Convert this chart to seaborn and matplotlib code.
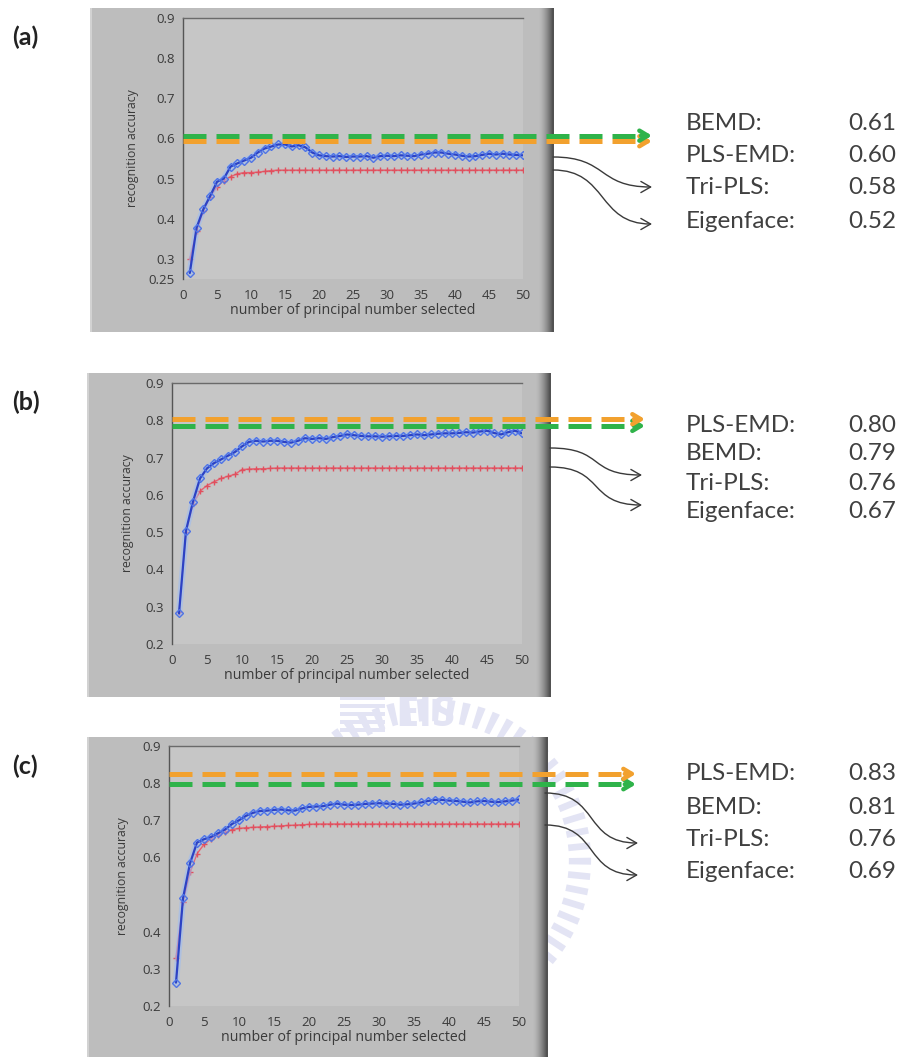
import numpy as np
import pandas as pd
import matplotlib
matplotlib.use("Agg")
import matplotlib.pyplot as plt
import seaborn as sns
from matplotlib.patches import Rectangle, FancyArrowPatch, Circle
from matplotlib.path import Path

# ---------------- data ----------------
components = list(range(1, 51))

a_tri = [0.265, 0.378, 0.424, 0.457, 0.492, 0.500, 0.530, 0.538, 0.545, 0.552,
         0.565, 0.575, 0.580, 0.585, 0.585, 0.580, 0.583, 0.578, 0.565, 0.558,
         0.556, 0.555, 0.556, 0.554, 0.555, 0.555, 0.556, 0.552, 0.556, 0.557,
         0.556, 0.558, 0.557, 0.556, 0.560, 0.562, 0.565, 0.565, 0.562, 0.560,
         0.557, 0.555, 0.556, 0.559, 0.562, 0.560, 0.562, 0.560, 0.559, 0.558]
a_eig = [0.300, 0.370, 0.420, 0.455, 0.480, 0.495, 0.505, 0.512, 0.515, 0.515,
         0.516, 0.518, 0.520, 0.521, 0.521, 0.521, 0.521, 0.521, 0.521, 0.521,
         0.521, 0.521, 0.521, 0.521, 0.521, 0.521, 0.521, 0.521, 0.521, 0.521,
         0.521, 0.521, 0.521, 0.521, 0.521, 0.521, 0.521, 0.521, 0.521, 0.521,
         0.521, 0.521, 0.521, 0.521, 0.521, 0.521, 0.521, 0.521, 0.521, 0.521]
a_bemd, a_plsemd = 0.607, 0.593

b_tri = [0.282, 0.504, 0.582, 0.644, 0.671, 0.685, 0.695, 0.705, 0.715, 0.730,
         0.742, 0.745, 0.743, 0.745, 0.745, 0.742, 0.740, 0.745, 0.752, 0.750,
         0.752, 0.750, 0.755, 0.758, 0.762, 0.760, 0.758, 0.757, 0.757, 0.756,
         0.757, 0.758, 0.758, 0.760, 0.762, 0.760, 0.762, 0.764, 0.765, 0.765,
         0.766, 0.768, 0.767, 0.770, 0.772, 0.766, 0.762, 0.768, 0.772, 0.765]
b_eig = [0.285, 0.500, 0.575, 0.610, 0.625, 0.635, 0.644, 0.650, 0.655, 0.668,
         0.669, 0.670, 0.670, 0.671, 0.672, 0.672, 0.672, 0.672, 0.672, 0.672,
         0.672, 0.672, 0.672, 0.672, 0.672, 0.672, 0.672, 0.672, 0.672, 0.672,
         0.672, 0.672, 0.672, 0.672, 0.672, 0.672, 0.672, 0.672, 0.672, 0.672,
         0.672, 0.672, 0.672, 0.672, 0.672, 0.672, 0.672, 0.672, 0.672, 0.672]
b_bemd, b_plsemd = 0.785, 0.803

c_tri = [0.263, 0.490, 0.584, 0.640, 0.649, 0.655, 0.665, 0.675, 0.690, 0.700,
         0.712, 0.720, 0.725, 0.726, 0.728, 0.729, 0.727, 0.726, 0.732, 0.736,
         0.737, 0.738, 0.742, 0.745, 0.742, 0.741, 0.742, 0.744, 0.745, 0.746,
         0.745, 0.744, 0.742, 0.743, 0.745, 0.748, 0.752, 0.755, 0.755, 0.753,
         0.752, 0.750, 0.748, 0.751, 0.752, 0.750, 0.749, 0.751, 0.753, 0.756]
c_eig = [0.330, 0.480, 0.560, 0.610, 0.635, 0.650, 0.660, 0.668, 0.675, 0.678,
         0.680, 0.681, 0.682, 0.683, 0.684, 0.685, 0.686, 0.687, 0.688, 0.689,
         0.690, 0.690, 0.690, 0.690, 0.690, 0.690, 0.690, 0.690, 0.690, 0.690,
         0.690, 0.690, 0.690, 0.690, 0.690, 0.690, 0.690, 0.690, 0.690, 0.690,
         0.690, 0.690, 0.690, 0.690, 0.690, 0.690, 0.690, 0.690, 0.690, 0.690]
c_bemd, c_plsemd = 0.797, 0.825

a_names = ["BEMD:", "PLS-EMD:", "Tri-PLS:", "Eigenface:"]
a_values = ["0.61", "0.60", "0.58", "0.52"]
b_names = ["PLS-EMD:", "BEMD:", "Tri-PLS:", "Eigenface:"]
b_values = ["0.80", "0.79", "0.76", "0.67"]
c_names = ["PLS-EMD:", "BEMD:", "Tri-PLS:", "Eigenface:"]
c_values = ["0.83", "0.81", "0.76", "0.69"]

xticks = [0, 5, 10, 15, 20, 25, 30, 35, 40, 45, 50]
a_yticks = [0.25, 0.3, 0.4, 0.5, 0.6, 0.7, 0.8, 0.9]
a_ylabels = ["0.25", "0.3", "0.4", "0.5", "0.6", "0.7", "0.8", "0.9"]
b_yticks = [0.2, 0.3, 0.4, 0.5, 0.6, 0.7, 0.8, 0.9]
b_ylabels = ["0.2", "0.3", "0.4", "0.5", "0.6", "0.7", "0.8", "0.9"]
c_yticks = [0.2, 0.3, 0.4, 0.5, 0.6, 0.7, 0.8, 0.9]
c_ylabels = ["0.2", "0.3", "0.4", "", "0.6", "0.7", "0.8", "0.9"]

# ---------------- style ----------------
sns.set_style("white")
plt.rcParams["font.family"] = ["Open Sans", "DejaVu Sans"]

W, H = 903, 1057
fig = plt.figure(figsize=(W / 100, H / 100), dpi=100)
fig.patch.set_facecolor("white")

GREEN = "#2fb34a"
ORANGE = "#f2a12e"
TEXTC = "#404040"
WM = "#e3e4f4"


def F(x, y):
    return (x / W, 1 - y / H)


def add_box(x0, y0, x1, y1):
    fig.add_artist(Rectangle(F(x0, y1), (x1 - x0) / W, (y1 - y0) / H,
                             transform=fig.transFigure, facecolor="#bdbdbd",
                             edgecolor="none", zorder=-5))
    fig.add_artist(Rectangle(F(x0, y1), 2 / W, (y1 - y0) / H,
                             transform=fig.transFigure, facecolor="#d2d2d2",
                             edgecolor="none", zorder=-4))
    n = 15
    for i in range(n):
        t = i / (n - 1)
        g = 0.74 - 0.42 * t ** 1.6
        fig.add_artist(Rectangle(F(x1 - n + i, y1), 1.6 / W, (y1 - y0) / H,
                                 transform=fig.transFigure, facecolor=(g, g, g),
                                 edgecolor="none", zorder=-4))


# faint watermark (logo ring) behind everything
ring = Circle((430, H - 860), 150, transform=None, fill=False,
              edgecolor=WM, lw=16, ls=(0, (0.3, 0.35)), zorder=-8)
fig.add_artist(ring)
fig.text(395 / W, F(0, 716)[1], "EIS", fontsize=30, color=WM,
         ha="left", va="center", fontweight="bold", zorder=-8)
for k in range(5):
    fig.add_artist(Rectangle(F(340, 700 + k * 8), 45 / W, 4 / H, transform=fig.transFigure,
                             facecolor=WM, edgecolor="none", zorder=-8))


def panel(rect_px, box_px, ylim, yticks, ylabels, tri, eig, dashes, tip_x,
          ylab_x, tag, tag_y, names, values, text_y, curves):
    l, t, r, b = rect_px
    add_box(*box_px)
    ax = fig.add_axes([l / W, 1 - b / H, (r - l) / W, (b - t) / H])
    ax.set_facecolor("#c6c6c6")
    df = pd.DataFrame({"n": components, "Tri-PLS": tri, "Eigenface": eig})

    sns.lineplot(data=df, x="n", y="Eigenface", ax=ax, color="#e86070", lw=1.0,
                 zorder=3)
    sns.lineplot(data=df, x="n", y="Eigenface", ax=ax, color="#e86070", lw=0,
                 marker="+", markersize=5, markeredgewidth=1.0,
                 markeredgecolor="#e0505e", zorder=3)
    sns.lineplot(data=df, x="n", y="Tri-PLS", ax=ax, color="#9bbcf6", lw=4.5,
                 alpha=0.55, zorder=3.5)
    sns.lineplot(data=df, x="n", y="Tri-PLS", ax=ax, color="#2c42c4", lw=1.6,
                 marker="D", markersize=3.8, markerfacecolor="none",
                 markeredgecolor="#4f74e6", markeredgewidth=1.0, zorder=4)

    pxu = (r - l) / 50.0
    xe = (tip_x - 9 - l) / pxu
    xt = (tip_x - l) / pxu
    for val, col in dashes:
        ax.plot([0, xe], [val, val], ls=(0, (4.6, 2.0)), lw=3.6, color=col,
                clip_on=False, zorder=5, dash_capstyle="butt")
        ax.annotate("", xy=(xt, val), xytext=(xt - 1.6, val),
                    arrowprops=dict(arrowstyle="->,head_length=0.6,head_width=0.36",
                                    lw=3.2, color=col, shrinkA=0, shrinkB=0),
                    annotation_clip=False, zorder=6)

    ax.set_xlim(0, 50)
    ax.set_ylim(*ylim)
    ax.set_xticks(xticks)
    ax.set_xticklabels([str(v) for v in xticks])
    ax.set_yticks(yticks)
    ax.set_yticklabels(ylabels)
    ax.tick_params(axis="both", direction="out", colors="#555555", labelcolor="#3a3a3a",
                   labelsize=9.5, width=1)
    ax.tick_params(axis="y", length=5, pad=1)
    ax.tick_params(axis="x", length=4, pad=3)
    for s in ["right", "bottom"]:
        ax.spines[s].set_visible(False)
    ax.spines["left"].set_color("#555555")
    ax.spines["top"].set_color("#6a6a6a")
    ax.spines["left"].set_linewidth(1)
    ax.spines["top"].set_linewidth(1)
    ax.set_xlabel("number of principal number selected", fontsize=10.2, color="#3a3a3a",
                  labelpad=1)
    ax.set_ylabel("recognition accuracy", fontsize=8.8, color="#3a3a3a")
    ax.yaxis.set_label_coords((ylab_x + 6 - l) / (r - l), 0.5)
    ax.grid(False)

    fig.text(*F(12, tag_y), tag, fontsize=18, fontweight="bold", color="#222222",
             ha="left", va="center", family=["Lato", "DejaVu Sans"])
    for nm, vv, yy in zip(names, values, text_y):
        fig.text(*F(686, yy), nm, fontsize=17.5, color=TEXTC, ha="left", va="center",
                 family=["Lato", "DejaVu Sans"])
        fig.text(*F(896, yy), vv, fontsize=17.5, color=TEXTC, ha="right", va="center",
                 family=["Lato", "DejaVu Sans"])
    for (sx, sy), (ex, ey) in curves:
        verts = [F(sx, sy), F(sx + 55, sy), F(ex - 55, ey), F(ex, ey)]
        path = Path(verts, [Path.MOVETO, Path.CURVE4, Path.CURVE4, Path.CURVE4])
        arr = FancyArrowPatch(path=path, transform=fig.transFigure,
                              arrowstyle="->,head_length=7,head_width=4",
                              color="#3a3a3a", lw=1.0, zorder=7)
        fig.add_artist(arr)
    return ax


panel((183, 18, 523, 279), (90, 8, 553, 332), (0.25, 0.9), a_yticks, a_ylabels,
      a_tri, a_eig, [(a_plsemd, ORANGE), (a_bemd, GREEN)], 652, 133, "(a)", 37,
      a_names, a_values, [124, 155, 188, 221],
      [((553, 157), (652, 187)), ((553, 170), (652, 224))])

panel((172, 383, 522, 644), (87, 373, 550, 697), (0.2, 0.9), b_yticks, b_ylabels,
      b_tri, b_eig, [(b_bemd, GREEN), (b_plsemd, ORANGE)], 645, 128, "(b)", 402,
      b_names, b_values, [425, 454, 483, 512],
      [((550, 448), (642, 475)), ((550, 467), (642, 505))])

panel((169, 746, 519, 1006), (87, 737, 547, 1060), (0.2, 0.9), c_yticks, c_ylabels,
      c_tri, c_eig, [(c_bemd, GREEN), (c_plsemd, ORANGE)], 636, 123, "(c)", 766,
      c_names, c_values, [774, 807, 840, 872],
      [((545, 793), (638, 843)), ((545, 825), (638, 875))])

fig.savefig("out.png", dpi=100)
